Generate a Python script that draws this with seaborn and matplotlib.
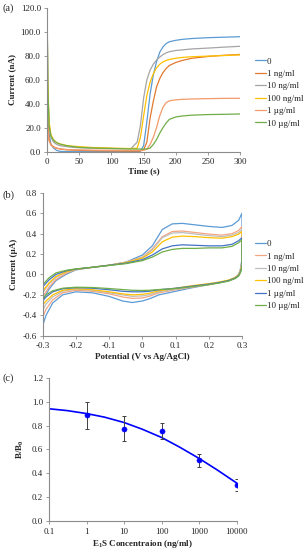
import numpy as np
import pandas as pd
import matplotlib
matplotlib.use('Agg')
import matplotlib.pyplot as plt
import seaborn as sns

# ---- (a) current vs time
t = [0, 1, 3, 6, 10, 15, 20, 30, 40, 50, 70, 100, 130, 140, 145, 150, 155, 160, 165, 170,
     175, 180, 185, 190, 200, 210, 225, 250, 275, 300]
cur_0 = [120, 60, 15, 6, 3, 1, 0.3, 0.1, 0, 0, 0, 0, 0, 0.1, 0.5, 5, 25, 48, 64, 75,
         83, 87.5, 90.3, 91.8, 93, 93.8, 94.5, 95.2, 95.6, 96]
cur_1ng = [47, 25, 10, 6, 4, 3, 2.3, 1.6, 1.3, 1.1, 0.8, 0.6, 0.5, 0.5, 0.6, 1.5, 8, 28, 42, 54,
           61, 66, 69.5, 72, 74.5, 76.2, 78, 79.5, 80.5, 81.2]
cur_10ng = [120, 55, 22, 12, 8, 6, 5, 4.2, 3.6, 3.3, 2.9, 2.6, 2.5, 8, 22, 45, 60, 68, 73, 76.5,
            79, 81, 82.5, 83.5, 84.5, 85, 85.8, 86.5, 87.3, 88]
cur_100ng = [120, 60, 25, 14, 10, 7.5, 6.5, 5.2, 4.6, 4.2, 3.5, 3, 2.6, 3, 12, 30, 47, 58, 65, 70,
             73, 75, 76.2, 77, 78, 78.7, 79.3, 79.8, 80.3, 80.8]
cur_1ug = [40, 20, 9, 5.5, 3.8, 2.8, 2.3, 1.8, 1.6, 1.5, 1.3, 1.2, 1.1, 1.1, 1.1, 1.2, 2, 6, 12, 20,
           30, 37, 41, 42.5, 43.3, 43.7, 44, 44.3, 44.5, 44.6]
cur_10ug = [120, 55, 22, 13, 9.5, 7.5, 6.3, 5, 4.3, 3.6, 3.1, 2.7, 2.3, 2.2, 2.2, 2.2, 2.3, 3, 6, 10,
            15.5, 20, 24, 27, 29, 29.8, 30.5, 31, 31.2, 31.5]

labels = ['0', '1 ng/ml', '10 ng/ml', '100 ng/ml', '1 µg/ml', '10 µg/ml']
colors_a = ['#5B9BD5', '#E07A30', '#A5A5A5', '#FFC000', '#F39A68', '#70AD47']

# ---- (b) cyclic voltammograms
e_up = [-0.3, -0.28, -0.26, -0.23, -0.2, -0.15, -0.1, -0.05, 0, 0.03, 0.06, 0.09, 0.12, 0.16,
        0.2, 0.24, 0.27, 0.29, 0.3]
e_dn = [0.3, 0.295, 0.29, 0.28, 0.26, 0.23, 0.2, 0.15, 0.1, 0.05, 0.02, 0, -0.03, -0.06, -0.1,
        -0.15, -0.2, -0.24, -0.27, -0.29, -0.3]
up_0 = [-0.25, -0.14, -0.06, 0.0, 0.045, 0.07, 0.09, 0.12, 0.19, 0.28, 0.44, 0.495, 0.5, 0.485,
        0.47, 0.46, 0.48, 0.53, 0.6]
up_1ng = [-0.22, -0.12, -0.05, 0.01, 0.048, 0.07, 0.09, 0.12, 0.17, 0.25, 0.37, 0.42, 0.425, 0.41,
          0.395, 0.385, 0.4, 0.43, 0.47]
up_10ng = [-0.18, -0.09, -0.03, 0.02, 0.05, 0.07, 0.09, 0.12, 0.165, 0.24, 0.36, 0.405, 0.41, 0.395,
           0.38, 0.37, 0.385, 0.41, 0.44]
up_100ng = [-0.16, -0.08, -0.02, 0.025, 0.05, 0.07, 0.09, 0.115, 0.16, 0.22, 0.32, 0.365, 0.375, 0.37,
            0.36, 0.355, 0.37, 0.395, 0.42]
up_1ug = [-0.12, -0.05, 0.0, 0.035, 0.052, 0.07, 0.09, 0.11, 0.145, 0.19, 0.25, 0.28, 0.29, 0.285,
          0.28, 0.28, 0.295, 0.33, 0.36]
up_10ug = [-0.1, -0.03, 0.015, 0.04, 0.055, 0.07, 0.088, 0.105, 0.135, 0.17, 0.22, 0.245, 0.255, 0.255,
           0.26, 0.26, 0.275, 0.31, 0.34]
dn_0 = [0.15, 0.05, 0.0, -0.03, -0.06, -0.08, -0.1, -0.13, -0.165, -0.2, -0.24, -0.26, -0.275, -0.26,
        -0.215, -0.18, -0.17, -0.2, -0.28, -0.4, -0.5]
dn_1ng = [0.13, 0.04, 0.0, -0.03, -0.06, -0.08, -0.1, -0.125, -0.15, -0.18, -0.215, -0.23, -0.235, -0.22,
          -0.19, -0.165, -0.155, -0.18, -0.25, -0.34, -0.42]
dn_10ng = [0.12, 0.035, 0.0, -0.03, -0.06, -0.08, -0.1, -0.12, -0.145, -0.17, -0.2, -0.21, -0.215, -0.2,
           -0.18, -0.155, -0.145, -0.165, -0.22, -0.29, -0.35]
dn_100ng = [0.1, 0.03, -0.005, -0.03, -0.055, -0.075, -0.09, -0.11, -0.135, -0.16, -0.185, -0.195, -0.2,
            -0.19, -0.17, -0.15, -0.14, -0.155, -0.2, -0.26, -0.3]
dn_1ug = [0.08, 0.02, -0.01, -0.035, -0.06, -0.08, -0.095, -0.115, -0.135, -0.15, -0.165, -0.17, -0.17,
          -0.165, -0.15, -0.135, -0.13, -0.14, -0.17, -0.22, -0.26]
dn_10ug = [0.07, 0.015, -0.015, -0.04, -0.065, -0.085, -0.1, -0.12, -0.138, -0.148, -0.155, -0.157, -0.155,
           -0.148, -0.138, -0.128, -0.125, -0.135, -0.16, -0.2, -0.24]
colors_b = ['#5B9BD5', '#F4A582', '#BFBFBF', '#FFC000', '#4472C4', '#70AD47']

# ---- (c) calibration
conc = [1, 10, 100, 1000, 10000]
ratio = [0.885, 0.775, 0.755, 0.51, 0.305]
ratio_err = [0.115, 0.105, 0.07, 0.055, 0.05]
fit_x = [0.1, 0.3, 1, 3, 10, 30, 100, 300, 1000, 3000, 10000]
fit_y = [0.94, 0.925, 0.90, 0.87, 0.825, 0.77, 0.70, 0.62, 0.525, 0.43, 0.32]

sns.set_style('white')
plt.rcParams['font.family'] = ['Liberation Serif', 'DejaVu Serif']
plt.rcParams['mathtext.fontset'] = 'custom'
plt.rcParams['mathtext.rm'] = 'Liberation Serif'
plt.rcParams['mathtext.bf'] = 'Liberation Serif:bold'
plt.rcParams['mathtext.it'] = 'Liberation Serif:italic'

fs = 6.5
spine_c = '#8C8C8C'

fig = plt.figure(figsize=(3.04, 5.5), dpi=100)
ax_a = fig.add_axes([0.155, 0.7242, 0.635, 0.2613])
ax_b = fig.add_axes([0.1405, 0.3896, 0.6556, 0.26])
ax_c = fig.add_axes([0.162, 0.0522, 0.6164, 0.2611])


def style(ax):
    for s in ['top', 'right']:
        ax.spines[s].set_visible(False)
    for s in ['left', 'bottom']:
        ax.spines[s].set_color(spine_c)
        ax.spines[s].set_linewidth(0.8)
    ax.tick_params(axis='both', labelsize=fs, length=2.5, width=0.6, color=spine_c, pad=2,
                   direction='out', bottom=True, left=True)
    ax.grid(False)


# (a)
series_a = [cur_0, cur_1ng, cur_10ng, cur_100ng, cur_1ug, cur_10ug]
for vals, lab, c in zip(series_a, labels, colors_a):
    sns.lineplot(x=t, y=vals, ax=ax_a, color=c, label=lab, linewidth=0.9, estimator=None)
ax_a.set_xlim(0, 300)
ax_a.set_ylim(0, 120)
ax_a.set_xticks(range(0, 301, 50))
ax_a.set_yticks(range(0, 121, 20))
ax_a.set_yticklabels([f'{v:.1f}' for v in range(0, 121, 20)])
ax_a.set_xlabel('Time (s)', fontsize=fs, fontweight='bold', labelpad=1)
ax_a.set_ylabel('Current (nA)', fontsize=fs, fontweight='bold', labelpad=3)
style(ax_a)
h, l = ax_a.get_legend_handles_labels()
ax_a.get_legend().remove()
fig.legend(h, l, loc='center left', bbox_to_anchor=(0.838, 0.832), fontsize=fs, frameon=False,
           handlelength=1.2, handletextpad=0.15, labelspacing=0.45, borderpad=0, borderaxespad=0)

# (b)
ups = [up_0, up_1ng, up_10ng, up_100ng, up_1ug, up_10ug]
dns = [dn_0, dn_1ng, dn_10ng, dn_100ng, dn_1ug, dn_10ug]
for u, d, lab, c in zip(ups, dns, labels, colors_b):
    xs = e_up + e_dn + [e_up[0]]
    ys = u + d + [u[0]]
    sns.lineplot(x=xs, y=ys, ax=ax_b, color=c, label=lab, sort=False, estimator=None, linewidth=0.9)
ax_b.set_xlim(-0.3, 0.3)
ax_b.set_ylim(-0.6, 0.8)
xt = [-0.3, -0.2, -0.1, 0, 0.1, 0.2, 0.3]
ax_b.set_xticks(xt)
ax_b.set_xticklabels(['-0.3', '-0.2', '-0.1', '0', '0.1', '0.2', '0.3'])
yt = [-0.6, -0.4, -0.2, 0, 0.2, 0.4, 0.6, 0.8]
ax_b.set_yticks(yt)
ax_b.set_yticklabels([f'{v:.1f}' for v in yt])
ax_b.set_xlabel('Potential (V vs Ag/AgCl)', fontsize=fs, fontweight='bold', labelpad=2)
ax_b.set_ylabel('Current (µA)', fontsize=fs, fontweight='bold', labelpad=3)
style(ax_b)
h, l = ax_b.get_legend_handles_labels()
ax_b.get_legend().remove()
fig.legend(h, l, loc='center left', bbox_to_anchor=(0.838, 0.5), fontsize=fs, frameon=False,
           handlelength=1.2, handletextpad=0.15, labelspacing=0.45, borderpad=0, borderaxespad=0)

# (c)
sns.lineplot(x=fit_x, y=fit_y, ax=ax_c, color='#0000FF', linewidth=1.2, estimator=None)
ax_c.errorbar(conc, ratio, yerr=ratio_err, fmt='none', ecolor='#404040', elinewidth=0.7,
              capsize=1.5, capthick=0.7)
sns.scatterplot(x=conc, y=ratio, ax=ax_c, color='#0000FF', s=14, edgecolor='#0000FF', zorder=5)
ax_c.set_xscale('log')
ax_c.set_xlim(0.1, 10000)
ax_c.set_ylim(0, 1.2)
ax_c.set_xticks([0.1, 1, 10, 100, 1000, 10000])
ax_c.set_xticklabels(['0.1', '1', '10', '100', '1000', '10000'])
ax_c.minorticks_off()
yt = [0, 0.2, 0.4, 0.6, 0.8, 1.0, 1.2]
ax_c.set_yticks(yt)
ax_c.set_yticklabels([f'{v:.1f}' for v in yt])
ax_c.set_xlabel(r'E$_{\mathbf{1}}$S Concentraion (ng/ml)', fontsize=fs, fontweight='bold', labelpad=2)
ax_c.set_ylabel(r'B/B$_{\mathbf{0}}$', fontsize=fs, fontweight='bold', labelpad=4)
style(ax_c)

for lab, y in [('(a)', 0.985), ('(b)', 0.645), ('(c)', 0.312)]:
    fig.text(0.008, y, lab, fontsize=7.5, va='center', ha='left')

fig.savefig('out.png', dpi=100)
